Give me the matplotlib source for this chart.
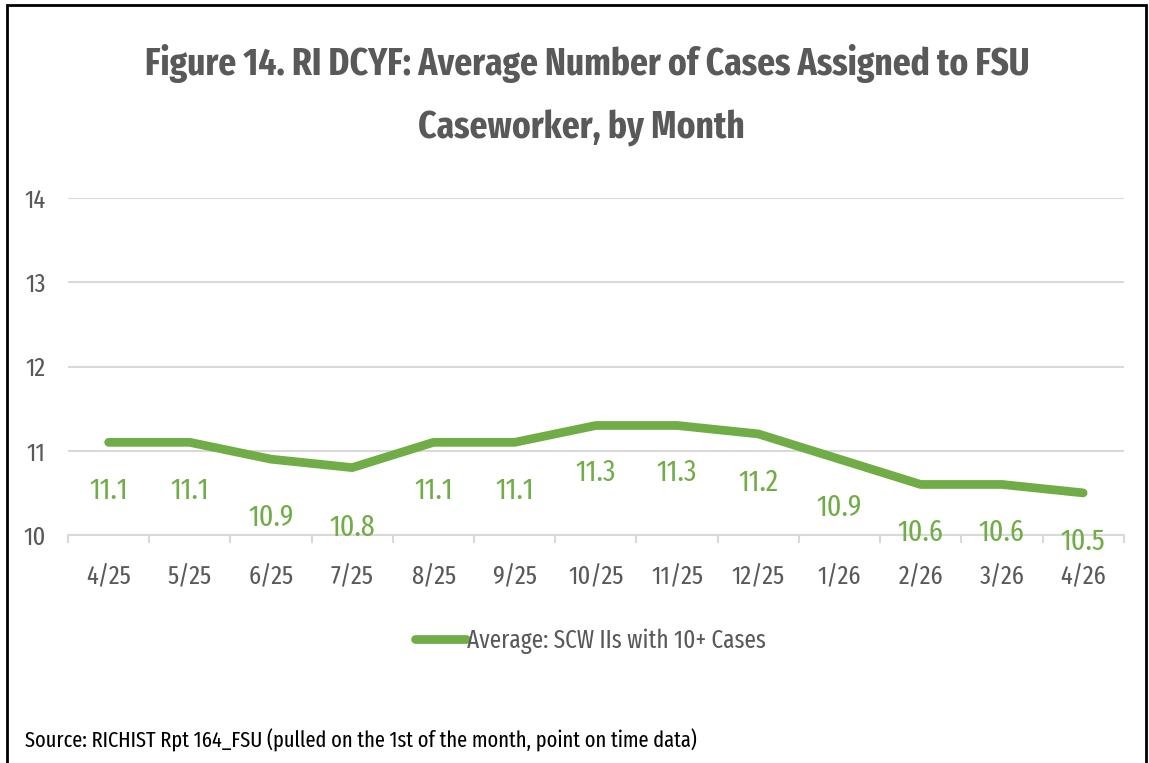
import numpy as np
import matplotlib.pyplot as plt
from matplotlib.patches import Rectangle

plt.rcParams['font.family'] = ['Fira Sans Extra Condensed', 'Carlito', 'DejaVu Sans']

# data
months = ['4/25', '5/25', '6/25', '7/25', '8/25', '9/25', '10/25',
          '11/25', '12/25', '1/26', '2/26', '3/26', '4/26']
avg_cases = [11.1, 11.1, 10.9, 10.8, 11.1, 11.1, 11.3, 11.3, 11.2, 10.9, 10.6, 10.6, 10.5]
yticks = [10, 11, 12, 13, 14]
series_name = 'Average: SCW IIs with 10+ Cases'

# label offsets below each point (points), as placed in the original
lab_off = [-35, -35, -42, -43, -35, -35, -34, -34, -35, -35, -35, -35, -35]

green = '#70ad47'
grey_txt = '#595959'
grid_c = '#d9d9d9'

fig = plt.figure(figsize=(11.49, 7.63), dpi=100)
renderer = fig.canvas.get_renderer()


def fit_size(s, width_px, weight='normal'):
    # font size giving the text the wanted pixel width
    probe = fig.text(0, 0, s, fontsize=20, fontweight=weight)
    w = probe.get_window_extent(renderer).width
    probe.remove()
    return 20 * width_px / w


fs = fit_size('4/25', 45)
fs_lab = fit_size('11.1', 39)
fs_title = fit_size('Figure 14. RI DCYF: Average Number of Cases Assigned to FSU', 885, 'bold')
fs_leg = fit_size(series_name, 299)
fs_src = fit_size('Source: RICHIST Rpt 164_FSU (pulled on the 1st of the month, point on time data)', 672)

ax = fig.add_axes([0.0592, 0.2988, 0.9188, 0.4417])

x = np.arange(len(months))
ax.plot(x, avg_cases, color=green, lw=6.3, solid_capstyle='round',
        solid_joinstyle='round', label=series_name)

for xi, v, off in zip(x, avg_cases, lab_off):
    ax.annotate(f'{v:.1f}', (xi, v), xytext=(0, off), textcoords='offset points',
                ha='center', va='center', color=green, fontsize=fs_lab)

ax.set_xlim(-0.5, len(months) - 0.5)
ax.set_ylim(10, 14)
ax.set_yticks(yticks)
ax.set_xticks(x)
ax.set_xticklabels(months)
ax.set_xticks(np.arange(-0.5, len(months)), minor=True)
ax.grid(axis='y', color=grid_c, lw=1.5)
ax.set_axisbelow(True)
for s in ['top', 'right', 'left']:
    ax.spines[s].set_visible(False)
ax.spines['bottom'].set_color(grid_c)
ax.spines['bottom'].set_linewidth(1.5)
ax.tick_params(axis='y', length=0, pad=16, labelsize=fs, labelcolor=grey_txt)
ax.tick_params(axis='x', which='major', length=0, pad=21, labelsize=fs, labelcolor=grey_txt)
ax.tick_params(axis='x', which='minor', length=6, width=1.5, color=grid_c)

fig.text(0.511, 0.916, 'Figure 14. RI DCYF: Average Number of Cases Assigned to FSU',
         ha='center', va='center', fontsize=fs_title, fontweight='bold', color=grey_txt)
fig.text(0.506, 0.832, 'Caseworker, by Month',
         ha='center', va='center', fontsize=fs_title, fontweight='bold', color=grey_txt)

leg = fig.legend(loc='center', bbox_to_anchor=(0.514, 0.16), frameon=False,
                 fontsize=fs_leg, handlelength=36.7 / fs_leg, handletextpad=0.05,
                 borderaxespad=0, borderpad=0)
for t in leg.get_texts():
    t.set_color(grey_txt)

fig.text(0.022, 0.03, 'Source: RICHIST Rpt 164_FSU (pulled on the 1st of the month, point on time data)',
         ha='left', va='center', fontsize=fs_src, color='black')

# outer frame
fig.patches.append(Rectangle((0.006, -0.01), 0.991, 1.004, transform=fig.transFigure,
                             fill=False, ec='black', lw=2))

fig.savefig('out.png', dpi=100)
